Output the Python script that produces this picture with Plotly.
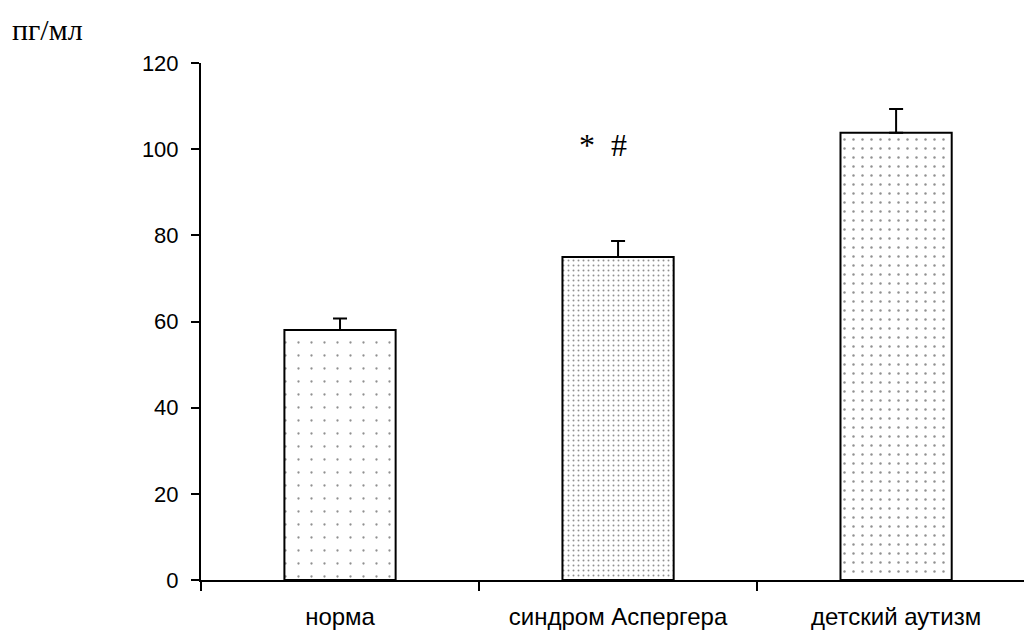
import plotly.graph_objects as go

categories = ["норма", "синдром Аспергера", "детский аутизм"]
values = [58, 75, 103.8]
errors = [2.7, 3.7, 5.5]
patterns = [".", ".", "."]
pattern_sizes = [13, 5, 9]
pattern_solidity = [0.025, 0.12, 0.06]
y_ticks = [0, 20, 40, 60, 80, 100, 120]
unit_label = "пг/мл"
signif_label = "*  #"

fig = go.Figure()
for i, (c, v, e) in enumerate(zip(categories, values, errors)):
    fig.add_trace(go.Bar(
        x=[i], y=[v], width=0.4,
        marker=dict(color="white", line=dict(color="black", width=2),
                    pattern=dict(shape=patterns[i], size=pattern_sizes[i],
                                 solidity=pattern_solidity[i],
                                 fgcolor="#222222", bgcolor="white")),
        error_y=dict(type="data", array=[e], arrayminus=[0], symmetric=False,
                     color="black", thickness=2, width=7),
        showlegend=False,
    ))

fig.update_layout(
    width=1024, height=630,
    margin=dict(l=201, r=0, t=63, b=50, autoexpand=False),
    plot_bgcolor="white", paper_bgcolor="white",
    font=dict(family="Liberation Sans, Arial", size=22, color="black"),
    xaxis=dict(range=[-0.5, 2.46], tickvals=[0, 1, 2], ticktext=categories,
               ticks="", showline=True, linecolor="black", linewidth=2,
               showgrid=False, zeroline=False, ticklabelstandoff=14,
               tickfont=dict(size=24), automargin=False,
               minor=dict(tickvals=[-0.5, 0.5, 1.5, 2.5], ticks="outside",
                          ticklen=9, tickcolor="black", tickwidth=2, showgrid=False)),
    yaxis=dict(range=[0, 120], tickvals=y_ticks, ticks="outside", ticklen=8,
               tickwidth=2, tickcolor="black", showline=True, linecolor="black",
               linewidth=2, showgrid=False, zeroline=False, ticklabelstandoff=8,
               automargin=False),
    annotations=[
        dict(text=unit_label, xref="paper", yref="paper", x=-0.232, y=1.064,
             xanchor="left", yanchor="middle", showarrow=False,
             font=dict(family="Liberation Serif, Times New Roman", size=30)),
        dict(text=signif_label, xref="x", yref="y", x=0.946, y=101,
             showarrow=False, font=dict(family="Liberation Serif, Times New Roman", size=32)),
    ],
)

fig.write_html("out.html")
